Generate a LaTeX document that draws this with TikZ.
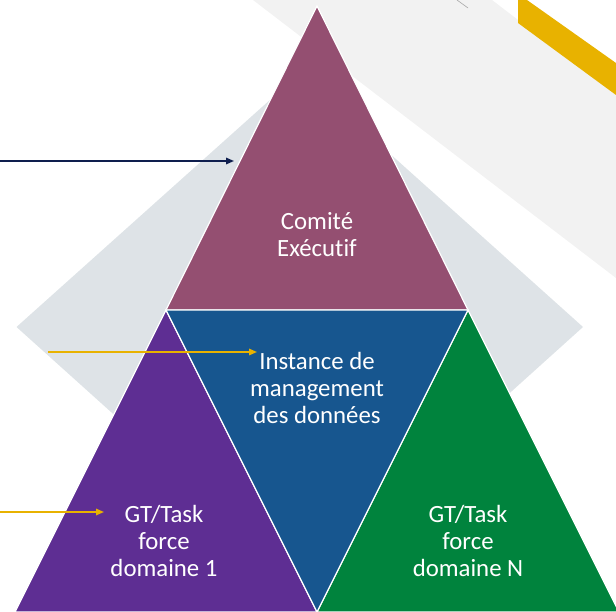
\documentclass[tikz,border=0pt]{standalone}
\usepackage{fontspec}
\setmainfont[Ligatures=NoCommon]{Carlito}
\usetikzlibrary{arrows.meta, positioning}

\definecolor{mauve}{HTML}{944F71}
\definecolor{bleu}{HTML}{17568F}
\definecolor{violet}{HTML}{5E2E93}
\definecolor{vert}{HTML}{00833D}
\definecolor{grisfond}{HTML}{DEE3E7}
\definecolor{grisbande}{HTML}{F2F2F2}
\definecolor{jaune}{HTML}{E8B200}
\definecolor{marine}{HTML}{0E1E4E}

\begin{document}
\begin{tikzpicture}[
        x=1pt, y=-1pt,
        % --- STYLES ---
        % 1. Les triangles : aplat de couleur + liseré blanc
        tri/.style={
                draw=white,
                line width=1.2pt,
                line join=miter
            },
        % 2. Les textes dans les triangles
        txt/.style={
                text=white,
                align=center,
                inner sep=0pt,
                font=\fontsize{24.8}{27}\selectfont
            },
        % 3. Les flèches venant de la gauche
        fleche/.style={
                line width=1.5pt,
                -{Triangle[length=8pt, width=6.5pt]}
            }
    ]
    \useasboundingbox (0,0) rectangle (616,612);
    \clip (0,0) rectangle (616,612);

    % 1. Fond
    \fill[grisbande] (253,0) -- (492,0) -- (616,95) -- (616,278) -- cycle;
    \fill[jaune] (518,0) -- (527,0) -- (616,63) -- (616,95) -- (518,23) -- cycle;
    \draw[gray!70, line width=0.6pt] (457,0) -- (468,8);
    \fill[grisfond] (16.5,327) -- (300,73) -- (583,327) -- (300,582) -- cycle;

    % 2. Les triangles
    \filldraw[tri, fill=mauve] (317,6) -- (468,310) -- (166,310) -- cycle;
    \filldraw[tri, fill=violet] (166,310) -- (317,612) -- (15,612) -- cycle;
    \filldraw[tri, fill=vert] (468,310) -- (619,612) -- (317,612) -- cycle;
    \filldraw[tri, fill=bleu] (166,310) -- (468,310) -- (317,612) -- cycle;

    % 3. Les textes
    \node[txt] (comite) at (317,235) {Comité\\Exécutif};
    \node[txt] (instance) at (317,388) {Instance de\\management\\des données};
    \node[txt] (gtun) at (164,541) {GT/Task\\force\\domaine 1};
    \node[txt] (gtn) at (468,541) {GT/Task\\force\\domaine N};

    % 4. Les flèches
    \coordinate (navydep) at (0,161);
    \coordinate (navyfin) at (234,161);
    \coordinate (instdep) at (48,352);
    \coordinate (instfin) at (257,352);
    \coordinate (gtdep) at (0,512);
    \coordinate (gtfin) at (104,512);

    \draw[fleche, marine] (navydep) -- (navyfin);
    \draw[fleche, jaune] (instdep) -- (instfin);
    \draw[fleche, jaune] (gtdep) -- (gtfin);

\end{tikzpicture}
\end{document}
